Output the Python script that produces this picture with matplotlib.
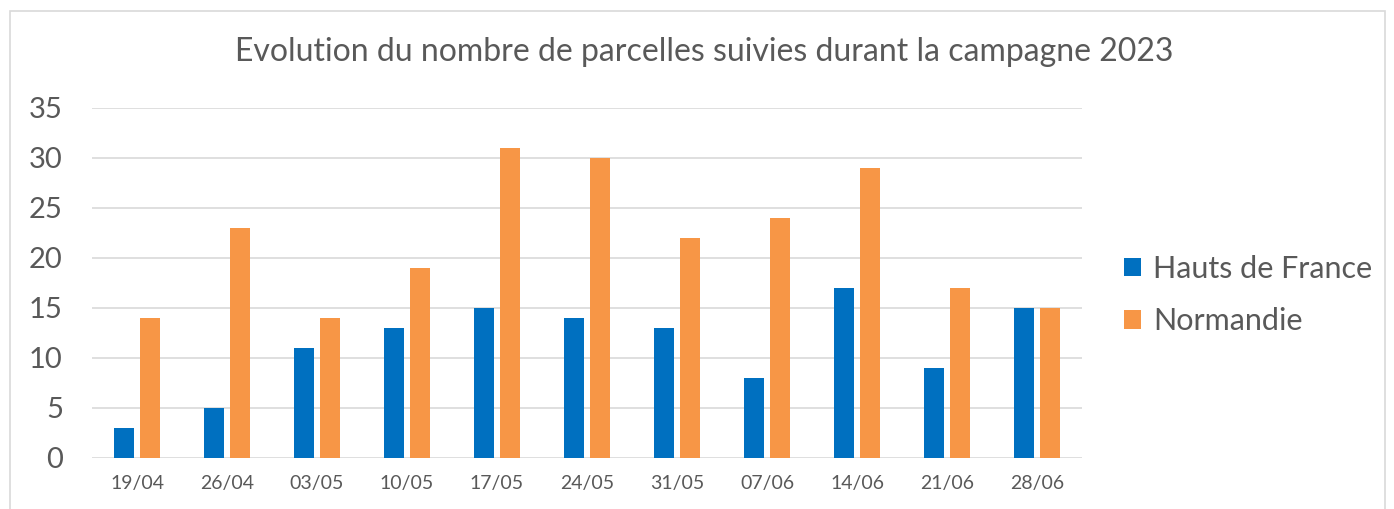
import numpy as np
import matplotlib.pyplot as plt
from matplotlib.patches import Rectangle

dates = ["19/04", "26/04", "03/05", "10/05", "17/05", "24/05",
         "31/05", "07/06", "14/06", "21/06", "28/06"]
hauts_de_france = [3, 5, 11, 13, 15, 14, 13, 8, 17, 9, 15]
normandie = [14, 23, 14, 19, 31, 30, 22, 24, 29, 17, 15]

plt.rcParams['font.family'] = ['Lato', 'DejaVu Sans']
grey = "#595959"

fig = plt.figure(figsize=(13.94, 5.09), dpi=100)
fig.patches.append(Rectangle((10 / 1394, -0.1), 1375 / 1394, 1.1 - 11 / 509,
                             transform=fig.transFigure, fill=False,
                             edgecolor="#d9d9d9", linewidth=1.2))
ax = fig.add_axes([92 / 1394, 51 / 509, 990 / 1394, 350 / 509])

x = np.arange(len(dates))
w = 0.22
ax.bar(x - 0.035 - w / 2, hauts_de_france, w, color="#0070C0",
       label="Hauts de France", zorder=3)
ax.bar(x + 0.035 + w / 2, normandie, w, color="#F79646",
       label="Normandie", zorder=3)

ax.set_xlim(-0.5, len(dates) - 0.5)
ax.set_ylim(0, 35)
ax.set_yticks(range(0, 36, 5))
ax.set_xticks(x)
ax.set_xticklabels(dates, fontsize=14, color=grey)
ax.tick_params(axis='y', labelsize=21, labelcolor=grey, length=0, pad=21)
ax.tick_params(axis='x', length=0, pad=12)
ax.grid(axis='y', color="#d9d9d9", linewidth=1.2, zorder=0)
for s in ax.spines.values():
    s.set_visible(False)

fig.text(0.5055, 0.898, "Evolution du nombre de parcelles suivies durant la campagne 2023",
         ha='center', va='center', fontsize=23, color=grey)

ax.legend(loc='center left', bbox_to_anchor=(1.03, 0.466), frameon=False,
          fontsize=22, labelcolor=grey, handlelength=0.55, handleheight=0.55,
          handletextpad=0.4, labelspacing=0.8, borderaxespad=0)

fig.savefig("out.png", dpi=100)
